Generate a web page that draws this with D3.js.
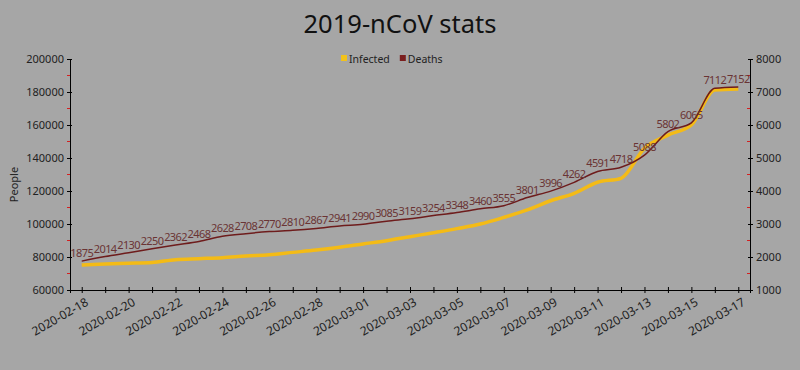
<!DOCTYPE html>
<html>
<head>
<meta charset="utf-8">
<script src="https://cdn.jsdelivr.net/npm/d3@7"></script>
<style>
  body { margin: 0; background: #a6a6a6; }
  svg { display: block; font-family: "Noto Sans", sans-serif; }
</style>
</head>
<body>
<svg id="chart" width="800" height="370"></svg>
<script>
const dates = ['2020-02-18', '2020-02-19', '2020-02-20', '2020-02-21', '2020-02-22', '2020-02-23',
  '2020-02-24', '2020-02-25', '2020-02-26', '2020-02-27', '2020-02-28', '2020-02-29', '2020-03-01',
  '2020-03-02', '2020-03-03', '2020-03-04', '2020-03-05', '2020-03-06', '2020-03-07', '2020-03-08',
  '2020-03-09', '2020-03-10', '2020-03-11', '2020-03-12', '2020-03-13', '2020-03-14', '2020-03-15',
  '2020-03-16', '2020-03-17'];
const infected = [75200, 75800, 76200, 76700, 78400, 79000, 79600, 80600, 81400, 82800, 84200,
  85900, 87900, 89900, 92300, 94700, 97200, 100000, 104000, 108500, 114100, 118600, 125300,
  127700, 145900, 153900, 160000, 181200, 181800];
const deaths = [1875, 2014, 2130, 2250, 2362, 2468, 2628, 2708, 2770, 2810, 2867, 2941, 2990,
  3085, 3159, 3254, 3348, 3460, 3555, 3801, 3996, 4262, 4591, 4718, 5088, 5802, 6065, 7112, 7152];
const leftTicks = [60000, 80000, 100000, 120000, 140000, 160000, 180000, 200000];
const rightTicks = [1000, 2000, 3000, 4000, 5000, 6000, 7000, 8000];

const svg = d3.select('#chart');
const margin = { left: 70, right: 50, top: 59, bottom: 80 };
const width = 800, height = 370;
const parse = d3.utcParse('%Y-%m-%d');
const data = dates.map((d, i) => ({ date: parse(d), infected: infected[i], deaths: deaths[i] }));

const halfDay = 12 * 3600 * 1000;
const x = d3.scaleUtc()
  .domain([+data[0].date - halfDay, +data[data.length - 1].date + halfDay])
  .range([margin.left, width - margin.right]);
const yL = d3.scaleLinear().domain([60000, 200000]).range([height - margin.bottom, margin.top]);
const yR = d3.scaleLinear().domain([1000, 8000]).range([height - margin.bottom, margin.top]);

// title
svg.append('text')
  .attr('x', 400).attr('y', 33)
  .attr('text-anchor', 'middle')
  .attr('font-size', 25.5)
  .attr('fill', '#111')
  .text('2019-nCoV stats');

// legend
const legend = [{ name: 'Infected', color: '#f2c21b' }, { name: 'Deaths', color: '#7a1e1e' }];
let lx = 341;
legend.forEach(l => {
  svg.append('rect').attr('x', lx).attr('y', 55).attr('width', 6).attr('height', 6)
    .attr('fill', l.color);
  const t = svg.append('text').attr('x', lx + 8).attr('y', 63)
    .attr('font-size', 10.5).attr('fill', '#222').text(l.name);
  lx += 8 + t.node().getComputedTextLength() + 10;
});

// axes
const bottomY = height - margin.bottom;
const gx = svg.append('g')
  .attr('transform', `translate(0,${bottomY})`)
  .call(d3.axisBottom(x).ticks(d3.utcDay.every(1)).tickSize(3)
    .tickFormat((d, i) => (i % 2 === 0 ? d3.utcFormat('%Y-%m-%d')(d) : '')));
gx.selectAll('.tick line').attr('y1', -3);

const gl = svg.append('g')
  .attr('transform', `translate(${margin.left},0)`)
  .call(d3.axisLeft(yL).tickValues(leftTicks).tickSize(3).tickFormat(d3.format('d')));
gl.selectAll('.tick line').attr('x1', 2);

const gr = svg.append('g')
  .attr('transform', `translate(${width - margin.right},0)`)
  .call(d3.axisRight(yR).tickValues(rightTicks).tickSize(3).tickFormat(d3.format('d')));
gr.selectAll('.tick line').attr('x1', -2);

[gx, gl, gr].forEach(g => {
  g.select('.domain').attr('stroke', '#000');
  g.selectAll('.tick line').attr('stroke', '#000');
  g.selectAll('.tick text').attr('font-size', 11).attr('fill', '#222')
    .attr('font-family', '"Noto Sans", sans-serif');
});
gx.selectAll('.tick text')
  .attr('font-size', 12)
  .attr('text-anchor', 'end')
  .attr('dx', '-0.1em').attr('dy', '0.85em')
  .attr('transform', 'rotate(-30)');

// red minor ticks
const minorL = d3.range(70000, 200000, 20000);
svg.append('g').selectAll('line').data(minorL).join('line')
  .attr('x1', margin.left - 3).attr('x2', margin.left)
  .attr('y1', d => yL(d)).attr('y2', d => yL(d))
  .attr('stroke', '#d42020');
const minorR = d3.range(1500, 8000, 1000);
svg.append('g').selectAll('line').data(minorR).join('line')
  .attr('x1', width - margin.right - 3).attr('x2', width - margin.right)
  .attr('y1', d => yR(d)).attr('y2', d => yR(d))
  .attr('stroke', '#d42020');

// y label
svg.append('text')
  .attr('transform', `translate(18,${(margin.top + bottomY) / 2 + 10}) rotate(-90)`)
  .attr('text-anchor', 'middle')
  .attr('font-size', 11).attr('fill', '#222')
  .text('People');

// lines
const lineInf = d3.line().x(d => x(d.date)).y(d => yL(d.infected)).curve(d3.curveMonotoneX);
const lineDeaths = d3.line().x(d => x(d.date)).y(d => yR(d.deaths)).curve(d3.curveMonotoneX);

svg.append('path').datum(data)
  .attr('d', lineInf)
  .attr('fill', 'none')
  .attr('stroke', '#f4bb16')
  .attr('stroke-width', 3.5)
  .attr('stroke-linejoin', 'round');

svg.append('path').datum(data)
  .attr('d', lineDeaths)
  .attr('fill', 'none')
  .attr('stroke', '#6e1c1c')
  .attr('stroke-width', 1.5);

// death labels
svg.append('g').selectAll('text').data(data).join('text')
  .attr('x', d => x(d.date))
  .attr('y', d => yR(d.deaths) - 4)
  .attr('text-anchor', 'middle')
  .attr('font-size', 11)
  .attr('letter-spacing', '-0.6px')
  .attr('fill', '#6a3434')
  .text(d => d.deaths);
</script>
</body>
</html>
